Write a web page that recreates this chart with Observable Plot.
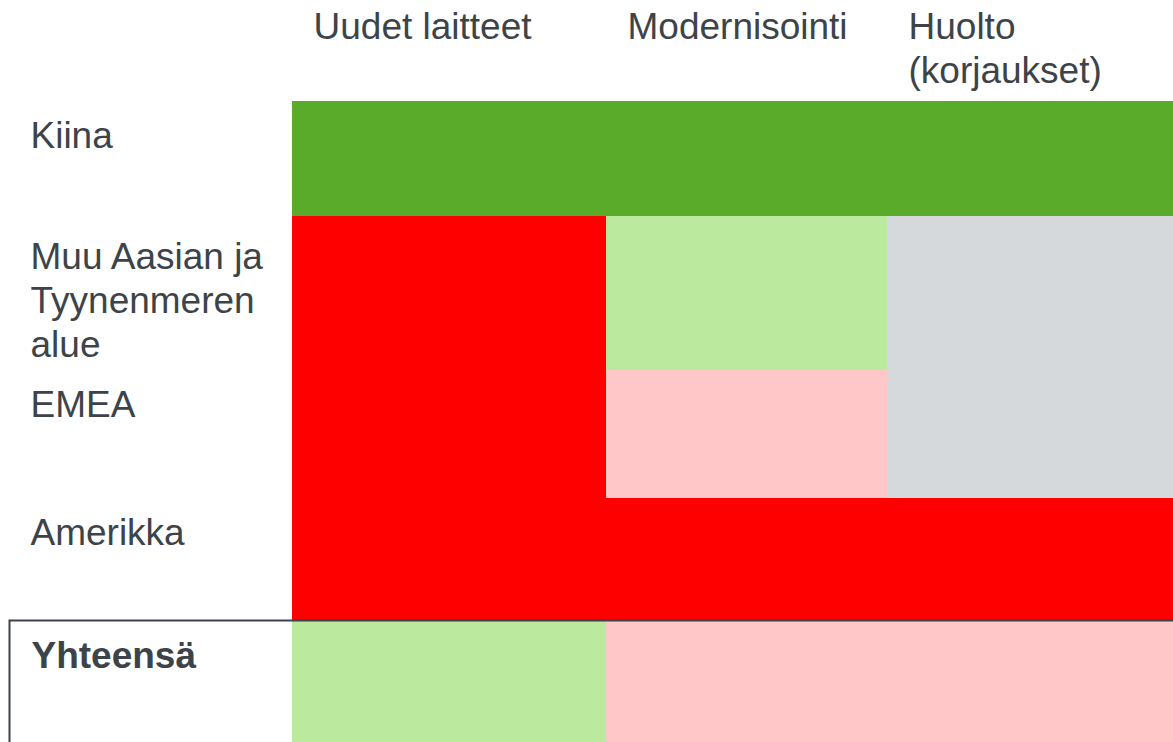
<!DOCTYPE html>
<html>
<head>
<meta charset="utf-8">
<script src="https://cdn.jsdelivr.net/npm/d3@7"></script>
<script src="https://cdn.jsdelivr.net/npm/@observablehq/plot@0.6"></script>
<style>
  html, body { margin: 0; padding: 0; background: #fff; overflow: hidden; }
  #chart svg { display: block; }
</style>
</head>
<body>
<div id="chart"></div>
<script>
// ---- data ----
const segments = ["Uudet laitteet", "Modernisointi", "Huolto\n(korjaukset)"];
const regions = ["Kiina", "Muu Aasian ja\nTyynenmeren\nalue", "EMEA", "Amerikka", "Yhteensä"];
const levels = ["Merkittävä kasvu", "Kasvu", "Vakaa", "Lasku", "Merkittävä lasku"];
const kiina    = ["Merkittävä kasvu", "Merkittävä kasvu", "Merkittävä kasvu"];
const muuAasia = ["Merkittävä lasku", "Kasvu", "Vakaa"];
const emea     = ["Merkittävä lasku", "Lasku", "Vakaa"];
const amerikka = ["Merkittävä lasku", "Merkittävä lasku", "Merkittävä lasku"];
const yhteensa = ["Kasvu", "Lasku", "Lasku"];
const statusRows = [kiina, muuAasia, emea, amerikka, yhteensa];

// ---- layout (relative column / row sizes of the table) ----
const labelCol = 292;
const colWeights = [314, 281, 286];
const headerRow = 101;
const rowWeights = [115, 154, 128, 123, 121];
const labelOffsets = [46, 52, 46, 46, 46];
const colStart = [0, ...d3.cumsum(colWeights)];
const rowStart = [0, ...d3.cumsum(rowWeights)];
const W = 1173, H = 742;
const fs = 37, lh = 1.2;
const textColor = "#3d4449";

const cells = [];
statusRows.forEach((row, r) => row.forEach((s, c) => cells.push({
  region: regions[r], segment: segments[c], status: s,
  x1: colStart[c], x2: colStart[c + 1], y1: rowStart[r], y2: rowStart[r + 1]
})));
const headers = segments.map((s, c) => ({label: s, x: colStart[c]}));
const rowLabels = regions.map((s, r) => ({label: s, y: rowStart[r] + labelOffsets[r], total: r === regions.length - 1}));

const chart = Plot.plot({
  width: W, height: H,
  margin: 0,
  style: {fontFamily: "'Liberation Sans', Arial, Helvetica, sans-serif", background: "#fff"},
  x: {type: "linear", domain: [-labelCol, colStart[3]], range: [0, W], axis: null},
  y: {type: "linear", domain: [-headerRow, rowStart[5]], range: [0, H], axis: null},
  color: {type: "ordinal", domain: levels,
          range: ["#5aab2a", "#bbe99e", "#d6d9dc", "#ffc7c7", "#ff0000"]},
  marks: [
    Plot.rect(cells, {x1: "x1", x2: "x2", y1: "y1", y2: "y2", fill: "status", title: d => `${d.region.replace(/\n/g, " ")} – ${d.segment.replace(/\n/g, " ")}: ${d.status}`}),
    Plot.rect([{}], {x1: -labelCol + 9.5, x2: colStart[3] + 20, y1: rowStart[4] - 0.5, y2: rowStart[5] + 20,
                     fill: "none", stroke: "#3c4247", strokeWidth: 2}),
    Plot.text(headers, {x: d => d.x + 21, y: -headerRow + 38, text: "label", textAnchor: "start",
                        lineAnchor: "top", lineHeight: lh, dy: -0.71 * lh * fs,
                        fontSize: fs, fill: textColor}),
    Plot.text(rowLabels.filter(d => !d.total), {x: -labelCol + 30, y: "y", text: "label", textAnchor: "start",
                        lineAnchor: "top", lineHeight: lh, dy: -0.71 * lh * fs,
                        fontSize: fs, fill: textColor}),
    Plot.text(rowLabels.filter(d => d.total), {x: -labelCol + 31, y: "y", text: "label", textAnchor: "start",
                        lineAnchor: "top", lineHeight: lh, dy: -0.71 * lh * fs,
                        fontSize: fs, fontWeight: "bold", fill: textColor})
  ]
});
document.getElementById("chart").appendChild(chart);
</script>
</body>
</html>
